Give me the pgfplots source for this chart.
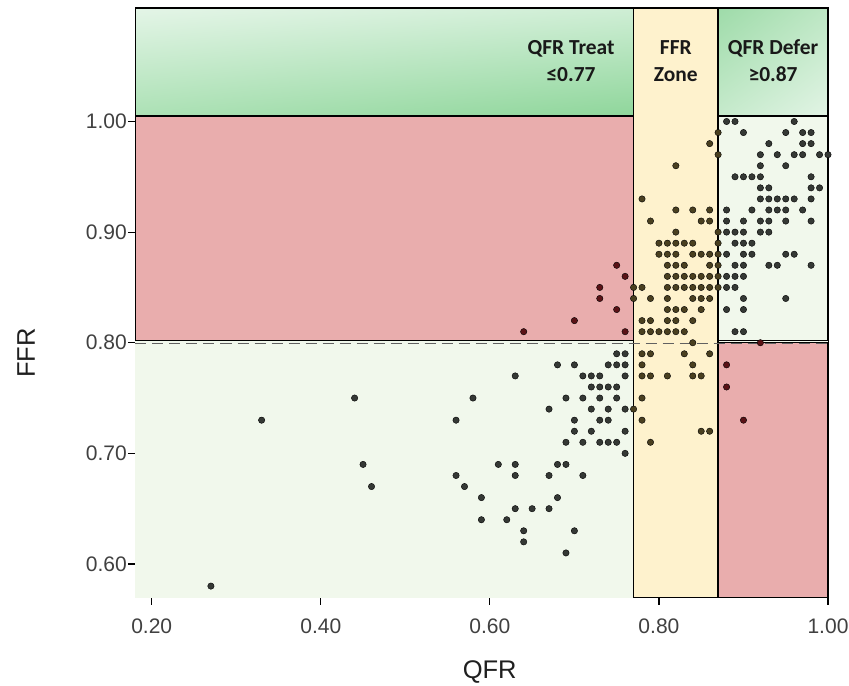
\documentclass[border=0pt]{standalone}
\usepackage{fontspec}
\setmainfont{Liberation Sans}
\newfontfamily\calfont{Carlito}
\usepackage{pgfplots}
\pgfplotsset{compat=1.18}
\usetikzlibrary{shadings}
\definecolor{bgGreen}{HTML}{F1F8EC}
\definecolor{zoneRed}{HTML}{E9ADAD}
\definecolor{zoneYel}{HTML}{FEF2CD}
\definecolor{gTL}{HTML}{E4F5E7}
\definecolor{gTR}{HTML}{CFEED5}
\definecolor{gBL}{HTML}{ACE1B5}
\definecolor{gBR}{HTML}{8FD69B}
\definecolor{hTL}{HTML}{9EDBA9}
\definecolor{hTR}{HTML}{BDE7C4}
\definecolor{hBL}{HTML}{C6EACC}
\definecolor{hBR}{HTML}{E2F4E5}
\definecolor{ptG}{HTML}{353935}
\definecolor{ptY}{HTML}{4A4020}
\definecolor{ptR}{HTML}{5A1216}
\begin{document}
\begin{tikzpicture}
\begin{axis}[
  at={(0,0)}, anchor=south west,
  scale only axis, width=692.5bp, height=589.5bp,
  xmin=0.1808, xmax=1.0, ymin=0.5697, ymax=1.1026,
  xtick={0.2,0.4,0.6,0.8,1.0}, ytick={0.6,0.7,0.8,0.9,1.0},
  tick pos=left, tick align=outside, major tick length=7bp,
  axis line style={line width=1.3bp},
  every tick/.style={black, line width=1.2bp},
  /pgf/number format/fixed, /pgf/number format/fixed zerofill,
  /pgf/number format/precision=2, /pgf/number format/assume math mode=true,
  ticklabel style={font=\fontsize{21.1}{25}\selectfont, text=black!75},
  xticklabel style={inner sep=0pt, yshift=-14.5bp},
  yticklabel style={inner sep=0pt, xshift=-1.5bp},
  xlabel={QFR}, ylabel={FFR},
  xlabel style={at={(axis description cs:0.5115,-0.1264)}, anchor=center, font=\fontsize{25.6}{30}\selectfont, text=black!88},
  ylabel style={at={(axis description cs:-0.158,0.4148)}, anchor=center, font=\fontsize{25.6}{30}\selectfont, text=black!88},
  clip=false,
]
\fill[bgGreen] (0.1808,0.5697) rectangle (1.0,1.1026);
\shadedraw[upper left=gTL, upper right=gTR, lower left=gBL, lower right=gBR, draw=black, line width=1.3bp] (0.1808,1.005) rectangle (0.77,1.1026);
\filldraw[fill=zoneRed, draw=black, line width=1.3bp] (0.1808,0.802) rectangle (0.77,1.005);
\filldraw[fill=zoneYel, draw=black, line width=1.3bp] (0.77,0.5697) rectangle (0.87,1.1026);
\shadedraw[upper left=hTL, upper right=hTR, lower left=hBL, lower right=hBR, draw=black, line width=1.3bp] (0.87,1.005) rectangle (1.0,1.1026);
\filldraw[fill=bgGreen, draw=black, line width=1.3bp] (0.87,0.802) rectangle (1.0,1.005);
\filldraw[fill=zoneRed, draw=black, line width=1.3bp] (0.87,0.5697) rectangle (1.0,0.80);
\draw[black!62, line width=1.5bp, dash pattern=on 11bp off 6bp] (0.1808,0.7995) -- (1.0,0.7995);
\node[align=center, font=\calfont\bfseries\fontsize{21.5}{27}\selectfont, text=black!90] at (0.696,1.0547) {QFR Treat\\≤0.77};
\node[align=center, font=\calfont\bfseries\fontsize{21.5}{27}\selectfont, text=black!90] at (0.82,1.0547) {FFR\\Zone};
\node[align=center, font=\calfont\bfseries\fontsize{21.5}{27}\selectfont, text=black!90] at (0.935,1.0547) {QFR Defer\\≥0.87};
% green-zone points
\addplot[only marks, mark=*, mark size=3.2bp, mark options={draw=none, fill=ptG}] coordinates {
(0.88,1.00)(0.89,1.00)(0.96,1.00)
(0.90,0.99)(0.95,0.99)(0.97,0.99)(0.98,0.99)
(0.93,0.98)(0.97,0.98)(0.98,0.98)
(0.92,0.97)(0.94,0.97)(0.96,0.97)(0.97,0.97)(0.99,0.97)(1.00,0.97)
(0.92,0.96)(0.95,0.96)
(0.89,0.95)(0.90,0.95)(0.91,0.95)(0.92,0.95)(0.98,0.95)
(0.92,0.94)(0.93,0.94)(0.98,0.94)(0.99,0.94)
(0.92,0.93)(0.93,0.93)(0.94,0.93)(0.95,0.93)(0.96,0.93)(0.98,0.93)
(0.88,0.92)(0.91,0.92)(0.93,0.92)(0.94,0.92)(0.95,0.92)(0.97,0.92)
(0.88,0.91)(0.90,0.91)(0.92,0.91)(0.93,0.91)(0.95,0.91)(0.98,0.91)
(0.88,0.90)(0.89,0.90)(0.90,0.90)(0.92,0.90)(0.93,0.90)
(0.89,0.89)(0.90,0.89)(0.91,0.89)
(0.88,0.88)(0.90,0.88)(0.91,0.88)(0.95,0.88)(0.96,0.88)
(0.89,0.87)(0.90,0.87)(0.93,0.87)(0.94,0.87)(0.98,0.87)
(0.88,0.86)(0.89,0.86)(0.90,0.86)
(0.88,0.85)(0.89,0.85)
(0.90,0.84)(0.95,0.84)
(0.88,0.83)(0.90,0.83)
(0.89,0.81)(0.90,0.81)
(0.75,0.79)(0.76,0.79)
(0.68,0.78)(0.70,0.78)(0.74,0.78)(0.75,0.78)(0.76,0.78)
(0.63,0.77)(0.71,0.77)(0.72,0.77)(0.73,0.77)(0.76,0.77)
(0.72,0.76)(0.73,0.76)(0.74,0.76)(0.75,0.76)
(0.44,0.75)(0.58,0.75)(0.69,0.75)(0.71,0.75)(0.73,0.75)(0.75,0.75)
(0.67,0.74)(0.72,0.74)(0.74,0.74)(0.76,0.74)
(0.33,0.73)(0.56,0.73)(0.70,0.73)(0.73,0.73)(0.74,0.73)
(0.70,0.72)(0.72,0.72)(0.76,0.72)
(0.69,0.71)(0.71,0.71)(0.73,0.71)(0.74,0.71)(0.75,0.71)
(0.76,0.70)
(0.45,0.69)(0.61,0.69)(0.63,0.69)(0.68,0.69)(0.69,0.69)
(0.56,0.68)(0.63,0.68)(0.67,0.68)(0.71,0.68)
(0.46,0.67)(0.57,0.67)
(0.59,0.66)(0.68,0.66)
(0.63,0.65)(0.65,0.65)(0.67,0.65)
(0.59,0.64)(0.62,0.64)
(0.64,0.63)(0.70,0.63)
(0.64,0.62)
(0.69,0.61)
(0.27,0.58)
};
% FFR-zone points
\addplot[only marks, mark=*, mark size=3.2bp, mark options={draw=none, fill=ptY}] coordinates {
(0.87,0.99)(0.86,0.98)(0.87,0.97)(0.82,0.96)(0.78,0.93)
(0.82,0.92)(0.84,0.92)(0.86,0.92)
(0.79,0.91)(0.85,0.91)(0.86,0.91)
(0.82,0.90)(0.87,0.90)
(0.80,0.89)(0.81,0.89)(0.82,0.89)(0.83,0.89)(0.84,0.89)(0.87,0.89)
(0.80,0.88)(0.81,0.88)(0.82,0.88)(0.84,0.88)(0.85,0.88)(0.86,0.88)(0.87,0.88)
(0.81,0.87)(0.82,0.87)(0.83,0.87)(0.86,0.87)(0.87,0.87)
(0.81,0.86)(0.82,0.86)(0.83,0.86)(0.84,0.86)(0.85,0.86)(0.86,0.86)(0.87,0.86)
(0.77,0.85)(0.78,0.85)(0.81,0.85)(0.82,0.85)(0.83,0.85)(0.84,0.85)(0.85,0.85)(0.86,0.85)(0.87,0.85)
(0.77,0.84)(0.79,0.84)(0.81,0.84)(0.84,0.84)(0.85,0.84)(0.86,0.84)
(0.81,0.83)(0.82,0.83)(0.83,0.83)(0.85,0.83)
(0.78,0.82)(0.79,0.82)(0.81,0.82)(0.82,0.82)(0.84,0.82)
(0.78,0.81)(0.79,0.81)(0.80,0.81)(0.81,0.81)(0.82,0.81)(0.83,0.81)
(0.84,0.80)
(0.78,0.79)(0.79,0.79)(0.83,0.79)(0.86,0.79)
(0.78,0.78)(0.84,0.78)
(0.78,0.77)(0.79,0.77)(0.81,0.77)(0.84,0.77)(0.85,0.77)
(0.78,0.75)(0.77,0.74)(0.78,0.73)
(0.85,0.72)(0.86,0.72)
(0.79,0.71)
};
% red-zone points
\addplot[only marks, mark=*, mark size=3.2bp, mark options={draw=none, fill=ptR}] coordinates {
(0.75,0.87)(0.76,0.86)(0.73,0.85)(0.73,0.84)(0.75,0.83)(0.70,0.82)(0.64,0.81)(0.76,0.81)
(0.92,0.80)(0.88,0.78)(0.88,0.76)(0.90,0.73)
};
\end{axis}
\pgfresetboundingbox
\path (-135.5bp,-88.5bp) rectangle (713.5bp,597.5bp);
\end{tikzpicture}
\end{document}
